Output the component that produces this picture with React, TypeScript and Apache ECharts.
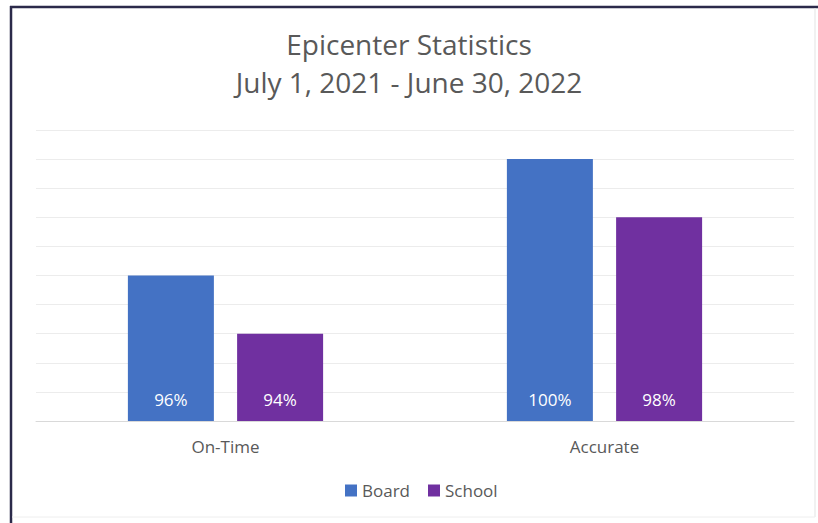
import React, { useEffect, useRef } from "react";
import * as echarts from "echarts";

const categories = ["On-Time", "Accurate"];
const boardValues = [96, 100];
const schoolValues = [94, 98];
const titleLines = ["Epicenter Statistics", "July 1, 2021 - June 30, 2022"];
const seriesNames = ["Board", "School"];

const FONT = "'Open Sans', 'Noto Sans', sans-serif";

export default function App() {
  const ref = useRef<HTMLDivElement>(null);
  useEffect(() => {
    if (!ref.current) return;
    const chart = echarts.init(ref.current, undefined, { renderer: "svg" });
    const label = {
      show: true,
      position: "insideBottom",
      distance: 13,
      color: "#ffffff",
      fontSize: 17,
      fontFamily: FONT,
      formatter: "{c}%",
    };
    chart.setOption({
      animation: false,
      backgroundColor: "#ffffff",
      title: {
        text: titleLines.join("\n"),
        left: "center",
        top: 20,
        textStyle: {
          fontSize: 28,
          lineHeight: 38,
          fontWeight: "normal",
          color: "#595959",
          fontFamily: FONT,
        },
      },
      legend: {
        data: seriesNames,
        top: 477,
        left: 340,
        icon: "rect",
        itemWidth: 12,
        itemHeight: 12,
        itemGap: 18,
        textStyle: { fontSize: 17, color: "#595959", fontFamily: FONT },
      },
      grid: { left: 36, right: 24, top: 130, bottom: 102, containLabel: false },
      xAxis: {
        type: "category",
        data: categories,
        axisTick: { show: false },
        axisLine: { lineStyle: { color: "#d9d9d9", width: 1 } },
        axisLabel: { fontSize: 17, color: "#595959", fontFamily: FONT, margin: 17 },
      },
      yAxis: {
        type: "value",
        min: 91,
        max: 101,
        interval: 1,
        axisLabel: { show: false },
        axisLine: { show: false },
        axisTick: { show: false },
        splitLine: { lineStyle: { color: "#ececec", width: 1 } },
      },
      series: [
        {
          name: seriesNames[0],
          type: "bar",
          data: boardValues,
          barWidth: 86,
          barGap: "27%",
          itemStyle: { color: "#4472C4" },
          label,
        },
        {
          name: seriesNames[1],
          type: "bar",
          data: schoolValues,
          barWidth: 86,
          itemStyle: { color: "#7030A0" },
          label,
        },
      ],
      graphic: [
        { type: "line", shape: { x1: 10, y1: 7, x2: 818, y2: 7 }, style: { stroke: "#2b2a4a", lineWidth: 2.5 } },
        { type: "line", shape: { x1: 11, y1: 6, x2: 11, y2: 523 }, style: { stroke: "#2b2a4a", lineWidth: 2.5 } },
        { type: "line", shape: { x1: 815, y1: 8, x2: 815, y2: 517 }, style: { stroke: "#e3e3e3", lineWidth: 1 } },
        { type: "line", shape: { x1: 12, y1: 517, x2: 815, y2: 517 }, style: { stroke: "#eeeeee", lineWidth: 1 } },
      ],
    });
    return () => chart.dispose();
  }, []);
  return (
    <div
      ref={ref}
      style={{ position: "fixed", left: 0, top: 0, width: 818, height: 523 }}
    />
  );
}
